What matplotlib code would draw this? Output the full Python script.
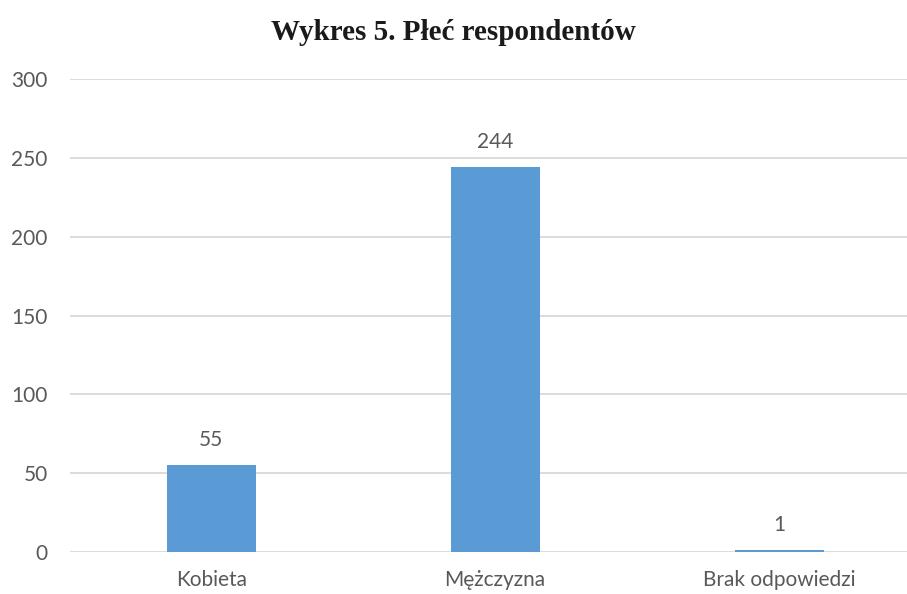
import matplotlib
matplotlib.use("Agg")
import matplotlib.pyplot as plt

categories = ["Kobieta", "Mężczyzna", "Brak odpowiedzi"]
values = [55, 244, 1]
yticks = [0, 50, 100, 150, 200, 250, 300]
title = "Wykres 5. Płeć respondentów"

plt.rcParams['font.family'] = ['Lato', 'DejaVu Sans']

fig = plt.figure(figsize=(9.07, 5.94), dpi=100)
ax = fig.add_axes([70/907, 42/594, (907-70)/907, (552-79)/594])

x = list(range(len(categories)))
bars = ax.bar(x, values, width=0.313, color="#5B9BD5", zorder=3)
for xi, v in zip(x, values):
    ax.annotate(str(v), (xi, v), xytext=(0, 11), textcoords="offset points",
                ha="center", va="bottom", fontsize=15, color="#595959")

ax.set_xlim(-0.497, 2.45)
ax.set_ylim(0, 300)
ax.set_yticks(yticks)
ax.set_xticks(x)
ax.set_xticklabels(categories)
ax.yaxis.grid(True, color="#D9D9D9", linewidth=1.3, zorder=0)
for s in ax.spines.values():
    s.set_visible(False)
ax.tick_params(axis="both", length=0, labelsize=15, labelcolor="#595959")
ax.tick_params(axis="y", pad=16)
ax.tick_params(axis="x", pad=13)

fig.text(0.5, 1 - 33/594, title, ha="center", va="center",
         fontsize=21, fontweight="bold", family=["Liberation Serif", "DejaVu Serif"], color="#1a1a1a")

fig.savefig("out.png", dpi=100)
